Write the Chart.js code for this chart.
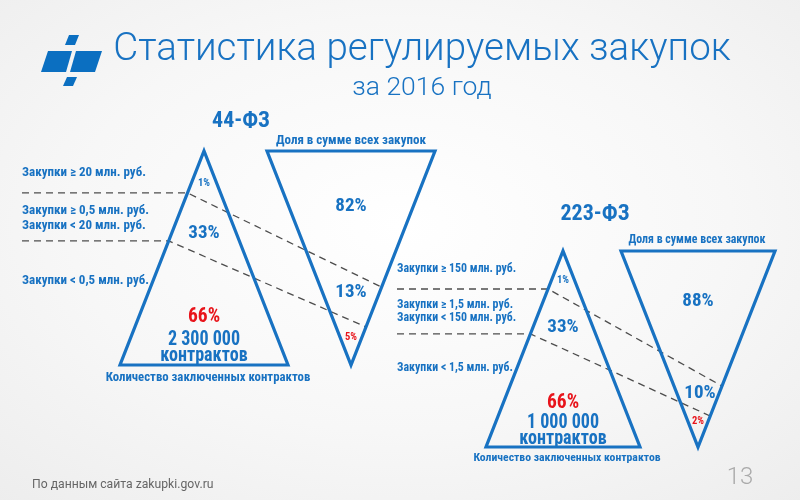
<!DOCTYPE html>
<html><head><meta charset="utf-8">
<script src="https://cdn.jsdelivr.net/npm/chart.js@4.4.0/dist/chart.umd.min.js"></script>
<style>
html,body{margin:0;padding:0;}
body{width:800px;height:500px;overflow:hidden;background:radial-gradient(ellipse 75% 75% at 50% 45%, #ffffff 0%, #f7f7f7 55%, #ededed 100%);font-family:Roboto,"Noto Sans",sans-serif;}
#wrap{position:relative;width:800px;height:500px;}
#c{position:absolute;left:0;top:0;}
#logo{position:absolute;left:0;top:0;}
.t{position:absolute;white-space:nowrap;line-height:1;}
.c{transform:translate(-50%,-50%);text-align:center;}
.l{transform:translate(0,-50%);}
.b{font-family:"Roboto Condensed","Liberation Sans Narrow","Arial Narrow",Roboto,sans-serif;font-weight:700;color:#1872c2;}
</style></head>
<body><div id="wrap">
<svg id="logo" width="120" height="100" viewBox="0 0 120 100">
  <g fill="#0b6fc1">
    <polygon points="69,35 79,35 75,45 65,45"/>
    <polygon points="48,51 72,51 66,72 41,72"/>
    <polygon points="76,51 102,51 95,72 70,72"/>
    <polygon points="67,77 77,77 73,86 63,86"/>
  </g>
</svg>
<canvas id="c" width="800" height="500"></canvas>
<div id="labels"></div>
</div>
<script>
// ---- data ----
const lawNames = ['44-ФЗ', '223-ФЗ'];
const countShare44 = [1, 33, 66];
const sumShare44 = [82, 13, 5];
const countShare223 = [1, 33, 66];
const sumShare223 = [88, 10, 2];
const contractsTotal = ['2 300 000', '1 000 000'];
const bands44 = [['Закупки ≥ 20 млн. руб.'], ['Закупки ≥ 0,5 млн. руб.', 'Закупки < 20 млн. руб.'], ['Закупки < 0,5 млн. руб.']];
const bands223 = [['Закупки ≥ 150 млн. руб.'], ['Закупки ≥ 1,5 млн. руб.', 'Закупки < 150 млн. руб.'], ['Закупки < 1,5 млн. руб.']];
const countCaption = 'Количество заключенных контрактов';
const sumCaption = 'Доля в сумме всех закупок';
const contractsWord = 'контрактов';
const titleText = 'Статистика регулируемых закупок';
const subtitleText = 'за 2016 год';
const sourceText = 'По данным сайта zakupki.gov.ru';
const pageNumber = '13';

// ---- layout (positions only) ----
const PANELS = [
  {ax:204, ix:351, top:151, base:365, hw:84, cut:[0.196,0.42], icut:[0.636,0.822], lx:22, fs:1,
   law:[241,120], sumCap:[351,139], cntCap:[208,377],
   cntPos:[[204,183],[204,231],[204,316]], contractsPos:[204,338,354],
   sumPos:[[351,204],[351,290],[351,337]], bandY:[[171],[209,224],[279]],
   count:countShare44, sum:sumShare44, bands:bands44},
  {ax:563, ix:698, top:251, base:447, hw:77, cut:[0.194,0.423], icut:[0.689,0.842], lx:397, fs:0.915,
   law:[595,213], sumCap:[697,240], cntCap:[567,458],
   cntPos:[[563,280],[563,325],[563,402]], contractsPos:[563,421,437],
   sumPos:[[698,299],[700,391],[698,421]], bandY:[[269],[305,318],[368]],
   count:countShare223, sum:sumShare223, bands:bands223}
];
const BLUE = '#1872c2', RED = '#e8141b';

const datasets = [];
PANELS.forEach(p => {
  datasets.push({data:[{x:p.ax,y:p.top},{x:p.ax+p.hw,y:p.base},{x:p.ax-p.hw,y:p.base},{x:p.ax,y:p.top},{x:p.ax+p.hw,y:p.base}],
    borderColor:BLUE, borderWidth:3.2});
  datasets.push({data:[{x:p.ix-p.hw,y:p.top},{x:p.ix+p.hw,y:p.top},{x:p.ix,y:p.base},{x:p.ix-p.hw,y:p.top},{x:p.ix+p.hw,y:p.top}],
    borderColor:BLUE, borderWidth:3.2});
});
PANELS.forEach(p => {
  p.cut.forEach((t, k) => {
    const y1 = p.top + (p.base - p.top) * t;
    const s = p.icut[k];
    const y2 = p.top + (p.base - p.top) * s;
    datasets.push({data:[{x:p.lx,y:y1},{x:p.ax-p.hw*t,y:y1},{x:p.ix+p.hw*(1-s),y:y2}],
      borderColor:'#4d4d4d', borderWidth:1.3, borderDash:[7,5]});
  });
});
datasets.forEach(d => { d.showLine = true; d.pointRadius = 0; d.tension = 0; d.fill = false; d.borderJoinStyle = 'miter'; });

const labelsPlugin = {
  id:'labels',
  afterRender(chart) {
    if (chart._labelsDone) return;
    chart._labelsDone = true;
    const box = document.getElementById('labels');
    const X = v => chart.scales.x.getPixelForValue(v);
    const Y = v => chart.scales.y.getPixelForValue(v);
    function add(text, x, y, cls, style) {
      const d = document.createElement('div');
      d.className = 't ' + cls;
      d.textContent = text;
      d.style.left = X(x) + 'px';
      d.style.top = Y(y) + 'px';
      Object.assign(d.style, style || {});
      box.appendChild(d);
    }
    add(titleText, 422, 47, 'c', {fontSize:'38.5px', fontWeight:'300', color:'#1872c2'});
    add(subtitleText, 422, 86, 'c', {fontSize:'26.5px', fontWeight:'300', color:'#1872c2'});
    add(sourceText, 32, 484, 'l', {fontSize:'12.2px', color:'#666'});
    add(pageNumber, 740, 476, 'c', {fontSize:'24px', fontWeight:'300', color:'#aaa'});
    const squeeze = {transform:'translate(-50%,-50%) scaleX(0.86)'};
    PANELS.forEach((p, i) => {
      add(lawNames[i], p.law[0], p.law[1], 'c b', {fontSize:'22px'});
      add(sumCaption, p.sumCap[0], p.sumCap[1], 'c b', {fontSize:(13*p.fs)+'px'});
      add(countCaption, p.cntCap[0], p.cntCap[1], 'c b', {fontSize:(12.8*p.fs)+'px'});
      p.bands.forEach((lines, k) => lines.forEach((ln, j) => add(ln, p.lx, p.bandY[k][j], 'l b', {fontSize:(13*p.fs)+'px'})));
      const small = {fontSize:'10.5px'}, mid = {fontSize:'19px'};
      add(p.count[0] + '%', p.cntPos[0][0], p.cntPos[0][1], 'c b', small);
      add(p.count[1] + '%', p.cntPos[1][0], p.cntPos[1][1], 'c b', mid);
      add(p.count[2] + '%', p.cntPos[2][0], p.cntPos[2][1], 'c b', {fontSize:'19.5px', color:RED});
      add(contractsTotal[i], p.contractsPos[0], p.contractsPos[1], 'c b', Object.assign({fontSize:'21px'}, squeeze));
      add(contractsWord, p.contractsPos[0], p.contractsPos[2], 'c b', Object.assign({fontSize:'21px'}, squeeze));
      add(p.sum[0] + '%', p.sumPos[0][0], p.sumPos[0][1], 'c b', mid);
      add(p.sum[1] + '%', p.sumPos[1][0], p.sumPos[1][1], 'c b', mid);
      add(p.sum[2] + '%', p.sumPos[2][0], p.sumPos[2][1], 'c b', {fontSize:'10.5px', color:RED});
    });
  }
};

new Chart(document.getElementById('c'), {
  type:'scatter',
  data:{datasets},
  options:{
    responsive:false, animation:false, events:[],
    layout:{padding:0},
    scales:{
      x:{type:'linear', min:0, max:800, display:false},
      y:{type:'linear', min:0, max:500, reverse:true, display:false}
    },
    plugins:{legend:{display:false}, tooltip:{enabled:false}}
  },
  plugins:[labelsPlugin]
});
</script>
</body></html>
